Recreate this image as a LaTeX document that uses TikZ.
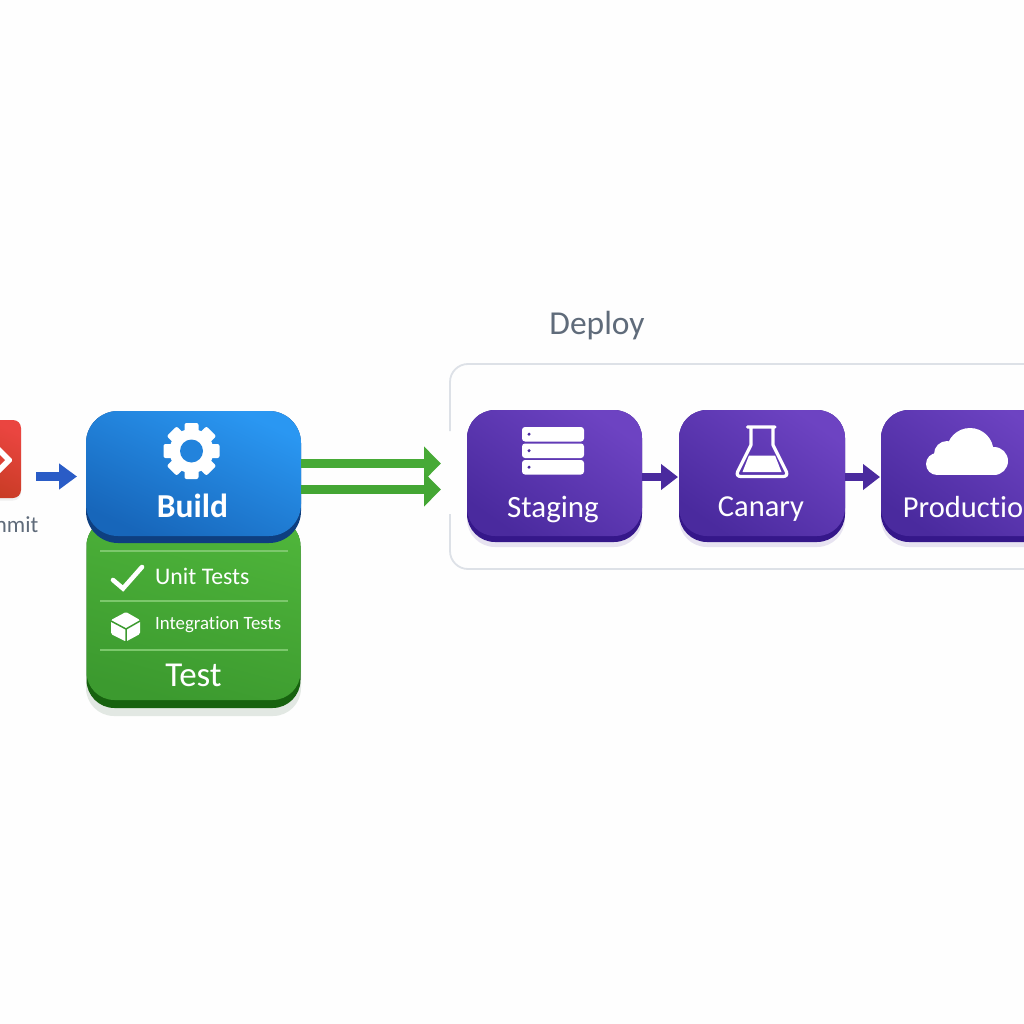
\documentclass[tikz,border=0pt]{standalone}
\usepackage{fontspec}
\setmainfont[Ligatures=NoCommon]{Carlito}
\usetikzlibrary{arrows.meta,calc}
\definecolor{pagewhite}{HTML}{FEFEFE}
\definecolor{inkgrey}{HTML}{5F6B7A}
\definecolor{framegrey}{HTML}{DDE1E7}
\definecolor{blueA}{HTML}{2A97F2}
\definecolor{blueB}{HTML}{1766BA}
\definecolor{blueD}{HTML}{0E3F80}
\definecolor{arrowblue}{HTML}{2A5CC6}
\definecolor{greenA}{HTML}{4EB43A}
\definecolor{greenB}{HTML}{3C9A2F}
\definecolor{greenD}{HTML}{17620F}
\definecolor{greenL}{HTML}{7CC86C}
\definecolor{greenS}{HTML}{E2E8E3}
\definecolor{purpleA}{HTML}{6D43C2}
\definecolor{purpleB}{HTML}{4A2A9E}
\definecolor{purpleD}{HTML}{35178A}
\definecolor{redA}{HTML}{EA4540}
\definecolor{redB}{HTML}{C23A20}
\tikzset{
  boxbase/.style={inner sep=0pt,outer sep=0pt,draw=none,rounded corners=#1},
  blockarrow/.style={line width=9pt,-{Triangle[length=17pt,width=33pt]}},
  smallarrow/.style={line width=8pt,-{Triangle[length=17pt,width=25pt]}},
  white label/.style={text=white,inner sep=0pt,anchor=center},
}
\begin{document}
\begin{tikzpicture}[x=1pt,y=-1pt]
\useasboundingbox (0,0) rectangle (1024,1024);
\clip (0,0) rectangle (1024,1024);
\fill[pagewhite] (0,0) rectangle (1024,1024);

% helper coordinates
\coordinate (g1) at (441,463.5);
\coordinate (g2) at (441,489.5);
\coordinate (a0) at (0,476.5);
\coordinate (a1) at (0,477);

% Deploy frame with its gap
\draw[framegrey,line width=1.8pt,rounded corners=18pt]
  (450,431) -- (450,364) -- (1060,364) -- (1060,569) -- (450,569) -- (450,514);
\node[text=inkgrey,font=\fontsize{33.5}{36}\selectfont,inner sep=0pt] (deploy) at (597,326) {Deploy};

% Commit
\node[boxbase=8pt,fill=black!6,minimum width=78pt,minimum height=78pt] (commitshadow) at (-18,461.5) {};
\node[boxbase=8pt,minimum width=78pt,minimum height=78pt,shade,top color=redA,bottom color=redB,shading angle=-25] (commit) at (-18,459) {};
\fill[white,rounded corners=1.5pt] (-4,443) -- (13,460) -- (-4,477) -- (-21,460) -- cycle;
\fill[redA!70!redB] (-4,451) -- (5,460) -- (-4,469) -- (-13,460) -- cycle;
\node[text=inkgrey,font=\fontsize{23}{26}\selectfont,inner sep=0pt,anchor=east] (commitlabel) at (38.5,525) {Commit};

% Test
\node[boxbase=28pt,fill=greenS,minimum width=215pt,minimum height=190pt] (testshadow) at (193.5,621) {};
\node[boxbase=28pt,fill=greenD,minimum width=214pt,minimum height=190pt] (testedge) at (193.5,613) {};
\node[boxbase=28pt,minimum width=214pt,minimum height=182pt,shade,top color=greenA,bottom color=greenB,shading angle=-15] (test) at (193.5,609) {};
\draw[greenL,line width=1.2pt] (100,551) -- (288,551) (100,601) -- (288,601) (100,650) -- (288,650);
\draw[white,line width=4.6pt,line join=miter,line cap=round] (113,580) -- (123,588.5) -- (142,567);
\node[white label,anchor=west,font=\fontsize{23.8}{26}\selectfont] (unit) at (155,576) {Unit Tests};
\node[white label,anchor=west,font=\fontsize{18.8}{20}\selectfont] (integ) at (155,625) {Integration Tests};
\node[white label,font=\fontsize{35}{37}\selectfont] (testlabel) at (193.5,675) {Test};
% cube icon
\fill[white,rounded corners=1.5pt] (126,612) -- (140,620) -- (140,634) -- (126,641.5) -- (111,634) -- (111,620) -- cycle;
\draw[greenB,line width=1.5pt,line join=round] (111,621) -- (126,629) -- (140,621) (126,629) -- (126,642);

% Build
\node[boxbase=32pt,fill=blueD,minimum width=215pt,minimum height=132pt] (buildedge) at (193.5,477) {};
\node[boxbase=32pt,minimum width=215pt,minimum height=125pt,shade,top color=blueA,bottom color=blueB,shading angle=-25] (build) at (193.5,473.5) {};
\node[white label,font=\bfseries\fontsize{33.5}{36}\selectfont] (buildlabel) at (192.5,505.5) {Build};
% gear icon
\foreach \a in {0,45,...,315}{
  \fill[white,rounded corners=2pt,rotate around={\a:(191.5,451)}] (184.5,423) rectangle (198.5,440);
}
\fill[white] (191.5,451) circle (22);
\fill[blueA!60!blueB] (191.5,451) circle (11.5);

% Purple boxes
\foreach \n/\cx/\w in {staging/554.5/175,canary/762/166,production/970/178}{
  \node[boxbase=28pt,fill=purpleD!12!white,minimum width=\w pt,minimum height=131pt] (\n shadow) at (\cx,481.5) {};
  \node[boxbase=28pt,fill=purpleD,minimum width=\w pt,minimum height=132pt] (\n edge) at (\cx,476) {};
  \node[boxbase=28pt,minimum width=\w pt,minimum height=126pt,shade,top color=purpleA,bottom color=purpleB,shading angle=-35] (\n) at (\cx,473) {};
}
\node[white label,font=\fontsize{31}{34}\selectfont] (staginglabel) at (553,509) {Staging};
\node[white label,font=\fontsize{30.5}{34}\selectfont] (canarylabel) at (761,509) {Canary};
\node[white label,font=\fontsize{30.5}{34}\selectfont] (productionlabel) at (971,507.5) {Production};

% server icon
\foreach \y in {427,443.5,460}{
  \fill[white,rounded corners=3pt] (522,\y) rectangle (584,\y+14.5);
  \fill[purpleB] (529,\y+7.2) circle (1.7);
}
% flask icon
\draw[white,line width=3.2pt,line join=round,line cap=round]
  (747.5,427) -- (775,427) (751,427) -- (751,445) -- (737.5,472) .. controls (736.5,475) and (738,476.5) .. (741,476.5)
  -- (783,476.5) .. controls (786,476.5) and (787.5,475) .. (786.5,472) -- (773,445) -- (773,427);
\fill[white] (749,455.5) -- (775,455.5) -- (781.5,472) -- (742.5,472) -- cycle;
% cloud icon
\fill[white] (970,451.5) circle (23.5) (947,454) circle (13) (937,464) circle (11) (994,461) circle (14);
\fill[white] (937,458) rectangle (994,475);

% Connectors
\draw[blockarrow,greenA!60!greenB] (build.east |- g1) -- (g1);
\draw[blockarrow,greenA!45!greenB] (build.east |- g2) -- (g2);
\draw[line width=9pt,-{Triangle[length=18pt,width=25pt]},arrowblue,shorten <=15pt,shorten >=9pt] (commit.east |- a0) -- (build.west |- a0);
\draw[smallarrow,purpleB,shorten >=1pt] (staging.east |- a1) -- (canary.west |- a1);
\draw[smallarrow,purpleB,shorten >=1pt] (canary.east |- a1) -- (production.west |- a1);
\end{tikzpicture}
\end{document}
